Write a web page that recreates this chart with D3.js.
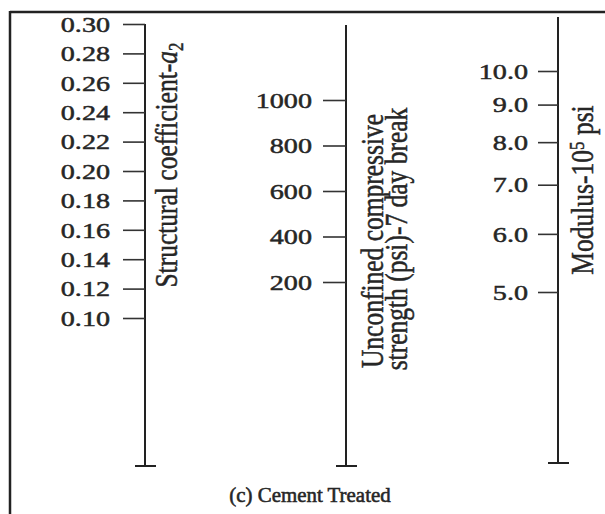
<!DOCTYPE html>
<html>
<head>
<meta charset="utf-8">
<script src="https://cdn.jsdelivr.net/npm/d3@7"></script>
<style>
  html, body { margin: 0; padding: 0; background: #fff; }
  svg { display: block; }
</style>
</head>
<body>
<svg id="chart" width="605" height="514"></svg>
<script>
// ---- data ----
const coefTicks = [0.10, 0.12, 0.14, 0.16, 0.18, 0.20, 0.22, 0.24, 0.26, 0.28, 0.30];
const strengthTicks = [200, 400, 600, 800, 1000];
const modulusTicks = [5.0, 6.0, 7.0, 8.0, 9.0, 10.0];
const coefTitle = ["Structural coefficient-", "a", "2"];
const strengthTitle = ["Unconfined compressive", "strength (psi)-7 day break"];
const modulusTitle = ["Modulus-10", "5", " psi"];
const chartTitle = "(c) Cement Treated";

// ---- layout ----
const W = 605, H = 514;
const svg = d3.select("#chart");
const FONT = "'Liberation Serif', 'Times New Roman', serif";
const TXT = "#262626";
const LINE = "#222";
const SX = 1.28; // horizontal stretch of the scanned tick labels

// frame
svg.append("line").attr("x1", 10).attr("x2", W).attr("y1", 12).attr("y2", 12)
  .attr("stroke", LINE).attr("stroke-width", 2.5);
svg.append("line").attr("x1", 10).attr("x2", 10).attr("y1", 11).attr("y2", H)
  .attr("stroke", LINE).attr("stroke-width", 2.5);

const yCoef = d3.scaleLinear().domain([0.10, 0.30]).range([318, 24]);
const yStr = d3.scaleLinear().domain([200, 1000]).range([282, 100]);
const yMod = d3.scaleLog().domain([5, 10]).range([292, 71]);

const axes = [
  { x: 145, scale: yCoef, ticks: coefTicks, fmt: d3.format(".2f"), tick: 22, pad: 13, top: 24, bottom: 466 },
  { x: 346, scale: yStr, ticks: strengthTicks, fmt: d3.format("d"), tick: 23, pad: 11, top: 25, bottom: 466 },
  { x: 558, scale: yMod, ticks: modulusTicks, fmt: d3.format(".1f"), tick: 20, pad: 10, top: 17, bottom: 463 }
];

axes.forEach(a => {
  const g = svg.append("g").attr("transform", `translate(${a.x},0)`);
  g.append("line").attr("x1", 0).attr("x2", 0).attr("y1", a.top).attr("y2", a.bottom)
    .attr("stroke", LINE).attr("stroke-width", 2);
  g.append("line").attr("x1", -10).attr("x2", 11).attr("y1", a.bottom).attr("y2", a.bottom)
    .attr("stroke", LINE).attr("stroke-width", 2);
  const ax = d3.axisLeft(a.scale).tickValues(a.ticks).tickFormat(a.fmt)
    .tickSize(a.tick).tickSizeOuter(0).tickPadding(a.pad);
  const ag = g.append("g").call(ax);
  ag.select(".domain").remove();
  ag.selectAll(".tick line").attr("stroke", "#333").attr("stroke-width", 1.6);
  ag.selectAll(".tick text")
    .attr("font-family", FONT).attr("font-size", 22).attr("fill", TXT)
    .attr("stroke", TXT).attr("stroke-width", 0.5)
    .attr("x", -(a.tick + a.pad) / SX)
    .attr("dy", "0.33em")
    .attr("transform", `scale(${SX},1)`);
});

// rotated titles
function rotText(x, y, anchor) {
  return svg.append("text")
    .attr("transform", `translate(${x},${y}) rotate(-90) scale(1,1.2)`)
    .attr("text-anchor", anchor)
    .attr("font-family", FONT).attr("font-size", 25.5).attr("fill", TXT)
    .attr("stroke", TXT).attr("stroke-width", 0.4);
}

const t1 = rotText(177, 165, "middle");
t1.append("tspan").text(coefTitle[0]);
t1.append("tspan").attr("font-style", "italic").text(coefTitle[1]);
t1.append("tspan").attr("font-size", 17).attr("dy", "0.3em").text(coefTitle[2]);

rotText(383, 241, "middle").text(strengthTitle[0]);
rotText(407, 239, "middle").text(strengthTitle[1]);

const t3 = rotText(593, 190, "middle");
t3.append("tspan").text(modulusTitle[0]);
t3.append("tspan").attr("font-size", 17).attr("dy", "-0.45em").text(modulusTitle[1]);
t3.append("tspan").attr("dy", "0.3em").text(modulusTitle[2]);

// bottom title
svg.append("text")
  .attr("transform", "translate(310,502) scale(1.02,1.05)")
  .attr("text-anchor", "middle")
  .attr("font-family", FONT).attr("font-size", 20.5).attr("fill", TXT)
  .attr("stroke", TXT).attr("stroke-width", 0.55)
  .text(chartTitle);
</script>
</body>
</html>
